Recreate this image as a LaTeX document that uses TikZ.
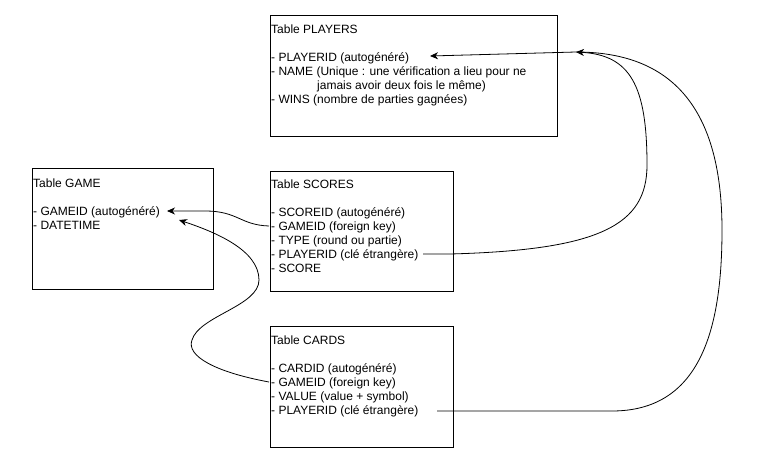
\documentclass[tikz,border=0pt]{standalone}
\usepackage{fontspec}
\setmainfont{Liberation Sans}
\usetikzlibrary{arrows.meta}
\begin{document}
\begin{tikzpicture}[x=1pt,y=-1pt,
  tbl/.style={draw=black, line width=0.9pt, anchor=north west, inner sep=0pt},
  row/.style={anchor=base west, inner sep=0pt, font=\fontsize{12}{14}\selectfont},
  link/.style={draw=black, line width=0.8pt},
  arr/.style={link, -{Stealth[length=8pt,width=7pt,inset=2.5pt]}}]
\path[use as bounding box] (0,0) rectangle (779,472);
\fill[white] (0,0) rectangle (779,472);

% tables
\node[tbl, minimum width=287pt, minimum height=121pt] (players) at (270,15) {};
\node[tbl, minimum width=181pt, minimum height=121pt] (game) at (32,168) {};
\node[tbl, minimum width=183pt, minimum height=120pt] (scores) at (270,171) {};
\node[tbl, minimum width=183pt, minimum height=121pt] (cards) at (270,326) {};

% PLAYERS rows
\node[row] (p-title) at (271,33.5) {Table PLAYERS};
\node[row] (p-id) at (271,61.5) {- PLAYERID (autogénéré)};
\node[row] (p-name) at (271,75.5) {- NAME (Unique : une vérification a lieu pour ne};
\node[row] (p-name2) at (317,89.5) {jamais avoir deux fois le même)};
\node[row] (p-wins) at (271,103.5) {- WINS (nombre de parties gagnées)};

% GAME rows
\node[row] (g-title) at (33,187.5) {Table GAME};
\node[row] (g-id) at (33,215.5) {- GAMEID (autogénéré)};
\node[row] (g-date) at (33,229.5) {- DATETIME};

% SCORES rows
\node[row] (s-title) at (271,188.5) {Table SCORES};
\node[row] (s-id) at (271,216.5) {- SCOREID (autogénéré)};
\node[row] (s-game) at (271,230.5) {- GAMEID (foreign key)};
\node[row] (s-type) at (271,244.5) {- TYPE (round ou partie)};
\node[row] (s-player) at (271,258.5) {- PLAYERID (clé étrangère)};
\node[row] (s-score) at (271,272.5) {- SCORE};

% CARDS rows
\node[row] (c-title) at (271,344.5) {Table CARDS};
\node[row] (c-id) at (271,372.5) {- CARDID (autogénéré)};
\node[row] (c-game) at (271,386.5) {- GAMEID (foreign key)};
\node[row] (c-value) at (271,400.5) {- VALUE (value + symbol)};
\node[row] (c-player) at (271,414.5) {- PLAYERID (clé étrangère)};

% connector end points
\coordinate (sg-start) at (269,226);
\coordinate (cg-start) at (269,382);
\coordinate (g-tip1) at (167,211);
\coordinate (g-tip2) at (179,220);
\coordinate (sp-start) at (423,254);
\coordinate (cp-start) at (437,411);
\coordinate (p-join) at (576,52);
\coordinate (p-tip) at (430,56);

% SCORES.GAMEID -> GAME.GAMEID
\draw[arr] (sg-start) .. controls (240,225) and (238,211) .. (205,211) -- (g-tip1);
% CARDS.GAMEID -> GAME.GAMEID
\draw[arr] (cg-start) .. controls (215,372) and (186,356) .. (192,340)
  .. controls (199,316) and (259,306) .. (259,280)
  .. controls (259,250) and (215,232) .. (g-tip2);
% SCORES.PLAYERID -> PLAYERS
\draw[arr] (sp-start) -- (450,254) .. controls (600,250) and (647,225) .. (647,165)
  .. controls (647,85) and (630,55) .. (p-join);
% CARDS.PLAYERID -> PLAYERS.PLAYERID
\draw[arr] (cp-start) -- (612,411) .. controls (700,411) and (722,330) .. (722,230)
  .. controls (722,100) and (665,52) .. (p-join) -- (p-tip);
\end{tikzpicture}
\end{document}
